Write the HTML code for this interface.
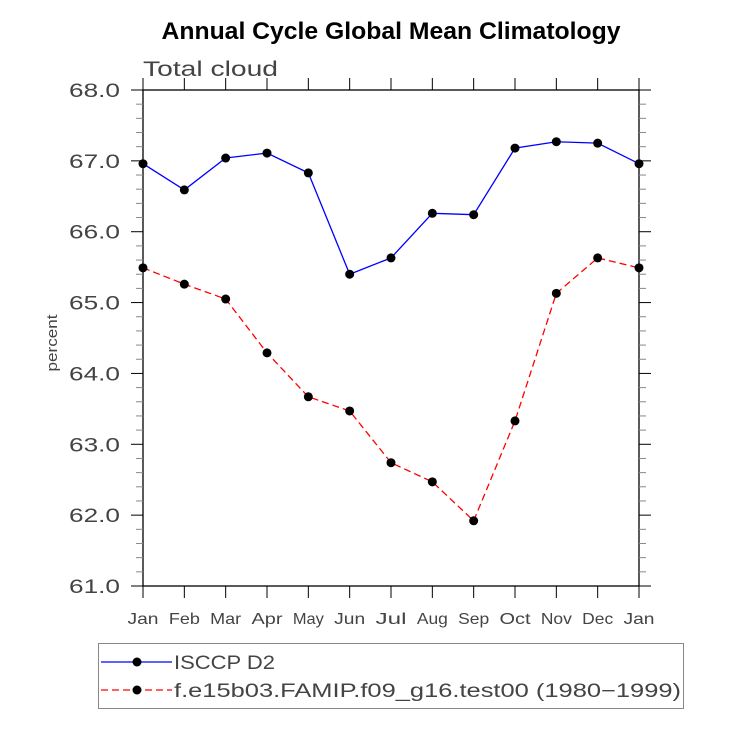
<!DOCTYPE html>
<html><head><meta charset="utf-8"><style>body{margin:0;background:#fff}</style></head>
<body>
<svg id="c" width="729" height="729" viewBox="0 0 729 729" xmlns="http://www.w3.org/2000/svg" font-family="Liberation Sans, sans-serif">
<rect width="729" height="729" fill="#fff"/>
<text x="391" y="39" text-anchor="middle" font-size="24" font-weight="bold" textLength="459" lengthAdjust="spacingAndGlyphs">Annual Cycle Global Mean Climatology</text>
<text x="143" y="76" font-size="21" fill="#444" textLength="135" lengthAdjust="spacingAndGlyphs">Total cloud</text>
<text x="57" y="343" font-size="15" fill="#444" text-anchor="middle" transform="rotate(-90 57 343)" textLength="57" lengthAdjust="spacingAndGlyphs">percent</text>
<g id="g"></g>
<rect x="98.5" y="643.5" width="585" height="65" fill="none" stroke="#888"/>
<g>
<line x1="101" y1="662" x2="172" y2="662" stroke="#00f" stroke-width="1.3"/>
<circle cx="137" cy="662" r="4.5"/>
<text x="174" y="669" font-size="19" fill="#444" textLength="101" lengthAdjust="spacingAndGlyphs">ISCCP D2</text></g>
<g>
<line x1="101" y1="690" x2="172" y2="690" stroke="#f00" stroke-width="1.3" stroke-dasharray="7,4"/>
<circle cx="137" cy="690" r="4.5"/>
<text x="174" y="697" font-size="19" fill="#444" textLength="507" lengthAdjust="spacingAndGlyphs">f.e15b03.FAMIP.f09_g16.test00 (1980−1999)</text></g>
</svg>
<script>
const months=["Jan","Feb","Mar","Apr","May","Jun","Jul","Aug","Sep","Oct","Nov","Dec","Jan"];
const isccp=[66.96,66.59,67.04,67.11,66.83,65.40,65.63,66.26,66.24,67.18,67.27,67.25,66.96];
const model=[65.49,65.26,65.05,64.29,63.67,63.47,62.74,62.47,61.92,63.33,65.13,65.63,65.49];
const yTicks=[61,62,63,64,65,66,67,68];
const X0=143,X1=639,Y0=586,Y1=90,ymin=61,ymax=68;
const xs=i=>X0+(X1-X0)*i/(months.length-1);
const ys=v=>Y0-(v-ymin)/(ymax-ymin)*(Y0-Y1);
const g=document.getElementById('g');const NS='http://www.w3.org/2000/svg';
function mk(t,a,p){const e=document.createElementNS(NS,t);for(const k in a)e.setAttribute(k,a[k]);(p||g).appendChild(e);return e;}
const frame=mk('rect',{x:X0,y:Y1,width:X1-X0,height:Y0-Y1,fill:'none',stroke:'#000','stroke-width':1.3});


for(let v=ymin;v<=ymax+1e-9;v+=0.2){const y=ys(v);const maj=Math.abs(v-Math.round(v))<1e-6;const L=maj?12:7;
mk('line',{x1:X0-L,y1:y,x2:X0,y2:y,stroke:maj?'#000':'#888'});mk('line',{x1:X1,y1:y,x2:X1+L,y2:y,stroke:maj?'#000':'#888'});}
yTicks.forEach(v=>{const t=mk('text',{x:X0-23,y:ys(v)+7,'text-anchor':'end','font-size':19,fill:'#444',textLength:51,lengthAdjust:'spacingAndGlyphs'});t.textContent=v.toFixed(1);

});
months.forEach((m,i)=>{const x=xs(i);mk('line',{x1:x,y1:Y0,x2:x,y2:Y0+12,stroke:'#000'});mk('line',{x1:x,y1:Y1-12,x2:x,y2:Y1,stroke:'#000'});
const t=mk('text',{x:x,y:624,'text-anchor':'middle','font-size':16,fill:'#444',textLength:31,lengthAdjust:'spacingAndGlyphs'});t.textContent=m;

});
function series(d,col,dash,name){const p=mk('polyline',{points:d.map((v,i)=>xs(i)+','+ys(v)).join(' '),fill:'none',stroke:col,'stroke-width':1.3,'stroke-dasharray':dash});


d.forEach((v,i)=>{const c=mk('circle',{cx:xs(i),cy:ys(v),r:4.5,fill:'#000'});

});}
series(isccp,'#00f','none','isccp');
series(model,'#f00','7,4','model');
</script>
</body></html>
